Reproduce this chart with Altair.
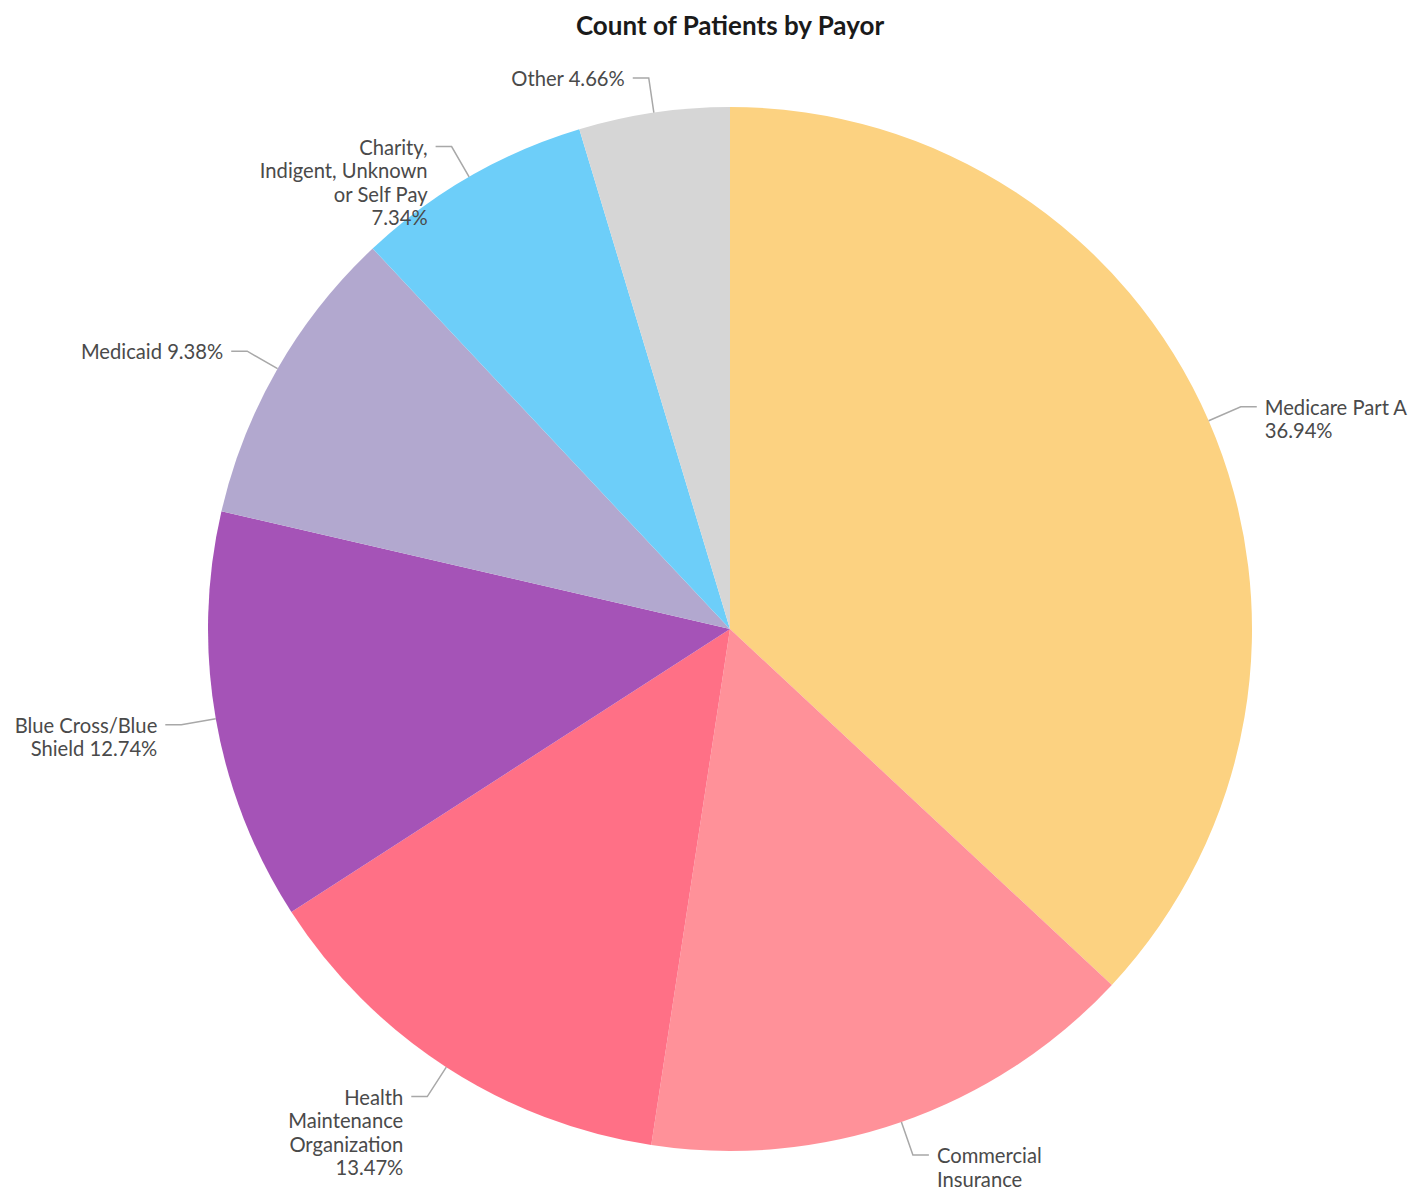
import math
import altair as alt
import pandas as pd

# ---- data ----
payors = ["Medicare Part A", "Commercial Insurance", "Health Maintenance Organization",
          "Blue Cross/Blue Shield", "Medicaid", "Charity, Indigent, Unknown or Self Pay", "Other"]
shares = [36.94, 15.47, 13.47, 12.74, 9.38, 7.34, 4.66]
label_lines = [
    ["Medicare Part A", "36.94%"],
    ["Commercial", "Insurance"],
    ["Health", "Maintenance", "Organization", "13.47%"],
    ["Blue Cross/Blue", "Shield 12.74%"],
    ["Medicaid 9.38%"],
    ["Charity,", "Indigent, Unknown", "or Self Pay", "7.34%"],
    ["Other 4.66%"],
]
colors = ["#FCD281", "#FF9199", "#FF7086", "#A553B7", "#B2A8CF", "#6DCEF9", "#D6D6D6"]

# ---- geometry (style constants) ----
R = 522          # pie radius in px
ELBOW = 557      # radius of leader-line elbow
HSEG = 16        # horizontal leader segment
GAP = 8          # gap between leader and text
W, H = 1356, 1122
XDOM = [-W / 2, W / 2]
YDOM = [-H / 2, H / 2]

pie = pd.DataFrame({"payor": payors, "share": shares, "order": list(range(len(payors)))})

total = sum(shares)
cum = 0.0
lines_rows = []
text_rows = []
for i, (p, s) in enumerate(zip(payors, shares)):
    mid = (cum + s / 2) / total * 2 * math.pi
    cum += s
    sx, sy = math.sin(mid), math.cos(mid)
    side = 1 if sx >= 0 else -1
    ex, ey = R * sx, R * sy
    bx, by = ELBOW * sx, ELBOW * sy
    hx = bx + side * HSEG
    for k, (x, y) in enumerate([(ex, ey), (bx, by), (hx, by)]):
        lines_rows.append({"payor": p, "k": k, "x": x, "y": y})
    text_rows.append({"payor": p, "x": hx + side * GAP, "y": by,
                      "lines": label_lines[i], "align": "left" if side > 0 else "right"})

lines_df = pd.DataFrame(lines_rows)
text_df = pd.DataFrame(text_rows)

xs = alt.Scale(domain=XDOM, nice=False, zero=False)
ys = alt.Scale(domain=YDOM, nice=False, zero=False)
FONT = "Lato"

arcs = alt.Chart(pie).mark_arc(outerRadius=R, strokeWidth=0).encode(
    theta=alt.Theta("share:Q", stack=True),
    order=alt.Order("order:Q"),
    color=alt.Color("payor:N", scale=alt.Scale(domain=payors, range=colors), legend=None),
    tooltip=["payor:N", "share:Q"],
)

leaders = alt.Chart(lines_df).mark_line(color="#a8a8a8", strokeWidth=1.5).encode(
    x=alt.X("x:Q", scale=xs, axis=None),
    y=alt.Y("y:Q", scale=ys, axis=None),
    detail="payor:N",
    order="k:Q",
)

text_base = dict(fontSize=20.2, font=FONT, color="#4a4a4a", baseline="alphabetic",
                 dy=8, lineHeight=23.5)
texts_left = alt.Chart(text_df[text_df["align"] == "left"]).mark_text(
    align="left", **text_base).encode(
    x=alt.X("x:Q", scale=xs, axis=None), y=alt.Y("y:Q", scale=ys, axis=None), text="lines")
texts_right = alt.Chart(text_df[text_df["align"] == "right"]).mark_text(
    align="right", **text_base).encode(
    x=alt.X("x:Q", scale=xs, axis=None), y=alt.Y("y:Q", scale=ys, axis=None), text="lines")

chart = alt.layer(arcs, leaders, texts_left, texts_right).properties(
    width=W, height=H,
    title=alt.TitleParams("Count of Patients by Payor", font=FONT, fontSize=26,
                          fontWeight="bold", color="#1a1a1a", anchor="middle", offset=28),
    padding={"left": 44, "right": 0, "top": 60, "bottom": 0},
    autosize=alt.AutoSizeParams(type="none"),
).configure_view(stroke=None)

chart.save("out.html", embed_options={"renderer": "svg", "actions": False})
